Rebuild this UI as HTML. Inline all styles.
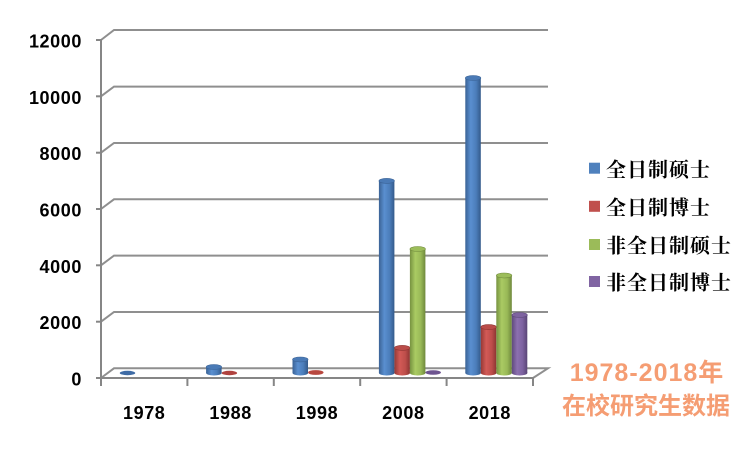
<!DOCTYPE html>
<html><head><meta charset="utf-8"><style>
html,body{margin:0;padding:0;background:#fff;}
svg{display:block;}
.yl{font-family:"Liberation Sans",sans-serif;font-weight:bold;font-size:18px;fill:#000;text-anchor:end;letter-spacing:0.6px;}
.xl{font-family:"Liberation Sans",sans-serif;font-weight:bold;font-size:18px;fill:#000;text-anchor:middle;letter-spacing:0.6px;}
.lg{font-family:"Liberation Serif","Noto Serif CJK SC",serif;font-weight:bold;font-size:20px;fill:#000;letter-spacing:1px;}
.or{font-family:"Liberation Sans","Noto Sans CJK SC",sans-serif;font-weight:bold;fill:#F59D73;text-anchor:middle;}
</style></head><body>
<svg width="752" height="451" viewBox="0 0 752 451" xmlns="http://www.w3.org/2000/svg">
<defs>
<linearGradient id="gb" x1="0" y1="0" x2="1" y2="0">
<stop offset="0" stop-color="#3A6295"/><stop offset="0.35" stop-color="#5A8FD0"/><stop offset="0.7" stop-color="#4B7DBA"/><stop offset="1" stop-color="#345A8A"/></linearGradient>
<linearGradient id="gr" x1="0" y1="0" x2="1" y2="0">
<stop offset="0" stop-color="#963935"/><stop offset="0.35" stop-color="#D25A56"/><stop offset="0.7" stop-color="#BE4E4B"/><stop offset="1" stop-color="#8E3532"/></linearGradient>
<linearGradient id="gg" x1="0" y1="0" x2="1" y2="0">
<stop offset="0" stop-color="#769240"/><stop offset="0.35" stop-color="#AACB63"/><stop offset="0.7" stop-color="#99B957"/><stop offset="1" stop-color="#6F893C"/></linearGradient>
<linearGradient id="gp" x1="0" y1="0" x2="1" y2="0">
<stop offset="0" stop-color="#5F4A7C"/><stop offset="0.35" stop-color="#8C70B0"/><stop offset="0.7" stop-color="#7D62A0"/><stop offset="1" stop-color="#594575"/></linearGradient>
</defs>

<!-- gridlines back wall + left side diagonals -->
<g stroke="#8f8f8f" stroke-width="2" fill="none">
<polyline points="101,40 114,30 548,30"/>
<polyline points="101,96.3 114,86.6 548,86.6"/>
<polyline points="101,152.7 114,143 548,143"/>
<polyline points="101,209 114,199.3 548,199.3"/>
<polyline points="101,265.3 114,255.6 548,255.6"/>
<polyline points="101,321.7 114,312 548,312"/>
<polyline points="101,378 114,368.3 548,368.3 533,378"/>
</g>
<!-- axes -->
<g stroke="#868686" stroke-width="2" fill="none">
<line x1="101" y1="39" x2="101" y2="386"/>
<line x1="100" y1="378" x2="534" y2="378"/>
<line x1="96" y1="40" x2="101" y2="40"/>
<line x1="96" y1="96.3" x2="101" y2="96.3"/>
<line x1="96" y1="152.7" x2="101" y2="152.7"/>
<line x1="96" y1="209" x2="101" y2="209"/>
<line x1="96" y1="265.3" x2="101" y2="265.3"/>
<line x1="96" y1="321.7" x2="101" y2="321.7"/>
<line x1="96" y1="378" x2="101" y2="378"/>
<line x1="187.4" y1="378" x2="187.4" y2="386"/>
<line x1="273.8" y1="378" x2="273.8" y2="386"/>
<line x1="360.2" y1="378" x2="360.2" y2="386"/>
<line x1="446.6" y1="378" x2="446.6" y2="386"/>
<line x1="533" y1="378" x2="533" y2="386"/>
</g>

<!-- y labels -->
<text class="yl" x="82" y="47.5">12000</text>
<text class="yl" x="82" y="103.8">10000</text>
<text class="yl" x="82" y="160.2">8000</text>
<text class="yl" x="82" y="216.5">6000</text>
<text class="yl" x="82" y="272.8">4000</text>
<text class="yl" x="82" y="329.2">2000</text>
<text class="yl" x="82" y="385.5">0</text>

<!-- x labels -->
<text class="xl" x="144.2" y="419">1978</text>
<text class="xl" x="230.6" y="419">1988</text>
<text class="xl" x="317" y="419">1998</text>
<text class="xl" x="403.4" y="419">2008</text>
<text class="xl" x="489.8" y="419">2018</text>

<!-- bars -->
<!-- 1978 blue flat -->
<ellipse cx="127.5" cy="373" rx="7.75" ry="2.2" fill="#3F6CA6"/>
<!-- 1988 -->
<ellipse cx="213.9" cy="373" rx="7.75" ry="2.5" fill="url(#gb)"/>
<rect x="206.1" y="367" width="15.5" height="6" fill="url(#gb)"/>
<ellipse cx="213.9" cy="367" rx="7.75" ry="2.5" fill="#4A7AB6" stroke="#3A6295" stroke-width="0.6"/>
<ellipse cx="229.4" cy="373" rx="7.75" ry="2.2" fill="#B0433F"/>
<!-- 1998 -->
<ellipse cx="300.3" cy="373" rx="7.75" ry="2.5" fill="url(#gb)"/>
<rect x="292.5" y="359.5" width="15.5" height="13.5" fill="url(#gb)"/>
<ellipse cx="300.3" cy="359.5" rx="7.75" ry="2.5" fill="#4A7AB6" stroke="#3A6295" stroke-width="0.6"/>
<ellipse cx="315.8" cy="372.5" rx="7.75" ry="2.4" fill="#B8473F"/>
<!-- 2008 -->
<ellipse cx="386.7" cy="373" rx="7.75" ry="2.5" fill="url(#gb)"/>
<rect x="378.9" y="180.9" width="15.5" height="192.1" fill="url(#gb)"/>
<ellipse cx="386.7" cy="180.9" rx="7.75" ry="2.5" fill="#4A7AB6" stroke="#3A6295" stroke-width="0.6"/>
<ellipse cx="402.2" cy="373" rx="7.75" ry="2.5" fill="url(#gr)"/>
<rect x="394.4" y="347.9" width="15.5" height="25.1" fill="url(#gr)"/>
<ellipse cx="402.2" cy="347.9" rx="7.75" ry="2.5" fill="#BA4C49" stroke="#8E3532" stroke-width="0.6"/>
<ellipse cx="417.7" cy="373" rx="7.75" ry="2.5" fill="url(#gg)"/>
<rect x="409.9" y="249" width="15.5" height="124" fill="url(#gg)"/>
<ellipse cx="417.7" cy="249" rx="7.75" ry="2.5" fill="#9CBD5A" stroke="#6F893C" stroke-width="0.6"/>
<ellipse cx="433.2" cy="372.5" rx="7.75" ry="2.3" fill="#6E5490"/>
<!-- 2018 -->
<ellipse cx="473.1" cy="373" rx="7.75" ry="2.5" fill="url(#gb)"/>
<rect x="465.3" y="78" width="15.5" height="295" fill="url(#gb)"/>
<ellipse cx="473.1" cy="78" rx="7.75" ry="2.5" fill="#4A7AB6" stroke="#3A6295" stroke-width="0.6"/>
<ellipse cx="488.6" cy="373" rx="7.75" ry="2.5" fill="url(#gr)"/>
<rect x="480.8" y="327.1" width="15.5" height="45.9" fill="url(#gr)"/>
<ellipse cx="488.6" cy="327.1" rx="7.75" ry="2.5" fill="#BA4C49" stroke="#8E3532" stroke-width="0.6"/>
<ellipse cx="504.1" cy="373" rx="7.75" ry="2.5" fill="url(#gg)"/>
<rect x="496.3" y="275.5" width="15.5" height="97.5" fill="url(#gg)"/>
<ellipse cx="504.1" cy="275.5" rx="7.75" ry="2.5" fill="#9CBD5A" stroke="#6F893C" stroke-width="0.6"/>
<ellipse cx="519.6" cy="373" rx="7.75" ry="2.5" fill="url(#gp)"/>
<rect x="511.8" y="315" width="15.5" height="58" fill="url(#gp)"/>
<ellipse cx="519.6" cy="315" rx="7.75" ry="2.5" fill="#7E63A0" stroke="#594575" stroke-width="0.6"/>

<!-- legend -->
<rect x="589" y="162.7" width="11" height="11" fill="#4F81BD"/>
<text class="lg" x="606" y="176.5">全日制硕士</text>
<rect x="589" y="200.8" width="11" height="11" fill="#C0504D"/>
<text class="lg" x="606" y="214.5">全日制博士</text>
<rect x="589" y="239" width="11" height="11" fill="#9BBB59"/>
<text class="lg" x="606" y="252.7">非全日制硕士</text>
<rect x="589" y="276" width="11" height="11" fill="#8064A2"/>
<text class="lg" x="606" y="289.7">非全日制博士</text>

<!-- orange caption -->
<text class="or" x="647" y="381" style="font-size:25px;letter-spacing:1px">1978-2018年</text>
<text class="or" x="646" y="414" style="font-size:24px">在校研究生数据</text>
</svg>
</body></html>
